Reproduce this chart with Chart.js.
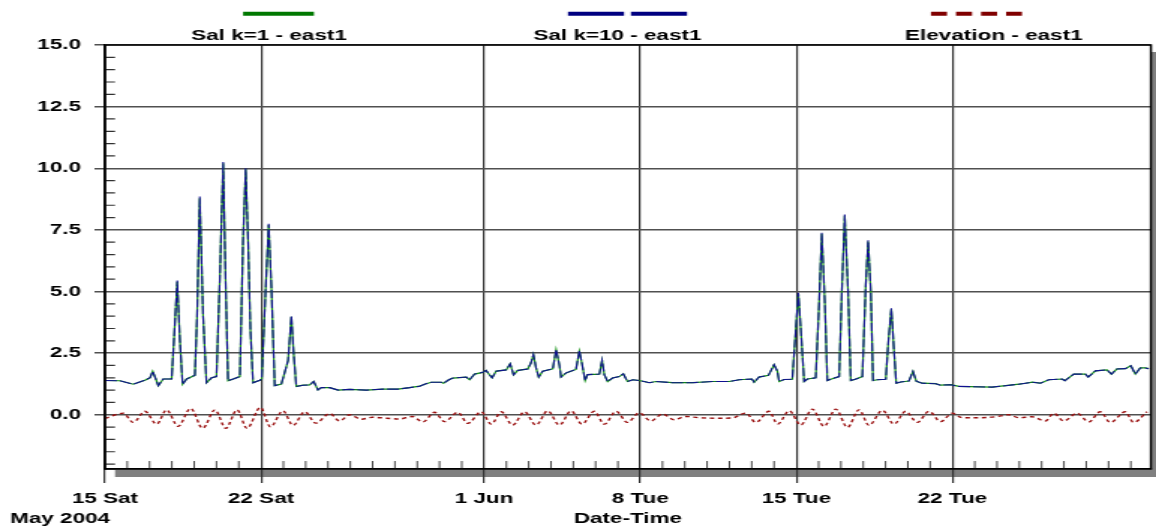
<!DOCTYPE html>
<html>
<head>
<meta charset="utf-8">
<title>Salinity and elevation - east1</title>
<script src="https://cdn.jsdelivr.net/npm/chart.js@4.4.1/dist/chart.umd.min.js"></script>
<style>
  html, body { margin: 0; padding: 0; background: #fff; overflow: hidden; }
  /* the plot is drawn narrow and stretched sideways, like the old export */
  #wrap { width: 771px; height: 529px; transform: scaleX(1.49935); transform-origin: 0 0; }
</style>
</head>
<body>
<div id="wrap"><canvas id="salChart"></canvas></div>
<script>
// x values are days since 15 May 2004 00:00
const tickDays = [0, 7, 17, 24, 31, 38];
const tickLabels = ["15 Sat", "22 Sat", "1 Jun", "8 Tue", "15 Tue", "22 Tue"];
const yTicks = [0, 2.5, 5, 7.5, 10, 12.5, 15];

const salDays = [
    0.00, 0.67, 1.27, 1.79, 2.02, 2.14, 2.28, 2.39, 2.61, 2.99,
    3.09, 3.24, 3.36, 3.48, 3.66, 4.03, 4.13, 4.25, 4.40, 4.55,
    4.78, 5.00, 5.15, 5.30, 5.42, 5.52, 5.75, 6.05, 6.19, 6.31,
    6.42, 6.52, 6.64, 6.94, 7.03, 7.20, 7.34, 7.47, 7.61, 7.91,
    8.21, 8.36, 8.46, 8.58, 8.88, 9.18, 9.36, 9.55, 9.70, 10.08,
    10.45, 10.97, 11.72, 12.46, 13.13, 13.66, 14.11, 14.33, 14.63, 15.08,
    15.18, 15.42, 15.60, 16.20, 16.35, 16.57, 16.94, 17.09, 17.24, 17.36,
    17.54, 17.99, 18.17, 18.32, 18.51, 18.96, 19.10, 19.21, 19.33, 19.45,
    19.63, 20.08, 20.23, 20.38, 20.45, 20.68, 21.12, 21.27, 21.39, 21.53,
    21.64, 22.17, 22.29, 22.39, 22.54, 22.76, 23.06, 23.24, 23.43, 23.66,
    23.96, 24.41, 24.71, 25.45, 26.35, 27.24, 27.99, 28.44, 29.01, 29.11,
    29.33, 29.75, 30.00, 30.15, 30.23, 30.45, 30.82, 30.94, 31.09, 31.20,
    31.35, 31.50, 31.87, 32.02, 32.14, 32.28, 32.39, 32.54, 32.92, 33.04,
    33.17, 33.32, 33.44, 33.64, 33.96, 34.11, 34.22, 34.34, 34.44, 34.63,
    35.01, 35.13, 35.26, 35.38, 35.48, 35.68, 36.05, 36.23, 36.38, 36.64,
    37.25, 37.47, 37.92, 38.29, 39.78, 40.38, 40.98, 41.28, 41.58, 41.95,
    42.32, 42.92, 43.04, 43.44, 43.96, 44.09, 44.41, 44.93, 45.13, 45.38,
    45.75, 46.00, 46.20, 46.42, 46.65, 46.80
];

const salK1 = [
    1.39, 1.38, 1.24, 1.40, 1.50, 1.76, 1.45, 1.18, 1.45, 1.45,
    3.00, 5.40, 3.00, 1.24, 1.45, 1.60, 4.00, 8.78, 4.00, 1.30,
    1.50, 1.55, 5.50, 10.20, 5.00, 1.38, 1.45, 1.55, 7.00, 9.96,
    7.00, 3.50, 1.30, 1.40, 1.45, 5.00, 7.70, 5.00, 1.18, 1.25,
    2.20, 3.98, 2.50, 1.15, 1.20, 1.21, 1.35, 1.01, 1.10, 1.10,
    1.00, 1.03, 1.00, 1.04, 1.04, 1.10, 1.16, 1.24, 1.32, 1.32,
    1.28, 1.42, 1.49, 1.53, 1.42, 1.65, 1.72, 1.80, 1.62, 1.50,
    1.77, 1.82, 2.07, 1.62, 1.80, 1.86, 2.10, 2.43, 1.90, 1.53,
    1.77, 1.86, 2.63, 2.00, 1.53, 1.70, 1.84, 2.57, 2.07, 1.39,
    1.63, 1.65, 2.20, 1.63, 1.35, 1.49, 1.55, 1.66, 1.35, 1.42,
    1.39, 1.30, 1.35, 1.30, 1.30, 1.35, 1.35, 1.42, 1.45, 1.32,
    1.53, 1.60, 2.03, 1.77, 1.35, 1.43, 1.44, 3.00, 4.90, 3.50,
    1.35, 1.45, 1.50, 4.50, 7.34, 4.50, 1.39, 1.44, 1.55, 5.00,
    8.07, 5.00, 1.39, 1.44, 1.55, 5.20, 7.03, 5.00, 1.39, 1.42,
    1.44, 3.00, 4.28, 2.60, 1.28, 1.33, 1.37, 1.76, 1.36, 1.28,
    1.26, 1.20, 1.22, 1.15, 1.12, 1.18, 1.24, 1.28, 1.32, 1.28,
    1.42, 1.45, 1.38, 1.65, 1.65, 1.53, 1.78, 1.82, 1.65, 1.86,
    1.87, 1.99, 1.65, 1.90, 1.90, 1.87
];

const salK10 = [
    1.39, 1.38, 1.24, 1.40, 1.50, 1.76, 1.45, 1.18, 1.45, 1.45,
    3.00, 5.45, 3.00, 1.24, 1.45, 1.60, 4.00, 8.85, 4.00, 1.30,
    1.50, 1.55, 5.50, 10.25, 5.00, 1.38, 1.45, 1.55, 7.00, 10.00,
    7.00, 3.50, 1.30, 1.40, 1.45, 5.00, 7.75, 5.00, 1.18, 1.25,
    2.20, 4.02, 2.50, 1.15, 1.20, 1.21, 1.35, 1.01, 1.10, 1.10,
    1.00, 1.03, 1.00, 1.04, 1.04, 1.10, 1.16, 1.24, 1.32, 1.32,
    1.28, 1.42, 1.49, 1.53, 1.42, 1.65, 1.72, 1.80, 1.62, 1.50,
    1.77, 1.82, 2.07, 1.62, 1.80, 1.86, 2.10, 2.45, 1.90, 1.53,
    1.77, 1.86, 2.65, 2.00, 1.53, 1.70, 1.84, 2.60, 2.07, 1.39,
    1.63, 1.65, 2.22, 1.63, 1.35, 1.49, 1.55, 1.66, 1.35, 1.42,
    1.39, 1.30, 1.35, 1.30, 1.30, 1.35, 1.35, 1.42, 1.45, 1.32,
    1.53, 1.60, 2.03, 1.77, 1.35, 1.43, 1.44, 3.00, 4.95, 3.50,
    1.35, 1.45, 1.50, 4.50, 7.38, 4.50, 1.39, 1.44, 1.55, 5.00,
    8.12, 5.00, 1.39, 1.44, 1.55, 5.20, 7.08, 5.00, 1.39, 1.42,
    1.44, 3.00, 4.32, 2.60, 1.28, 1.33, 1.37, 1.76, 1.36, 1.28,
    1.26, 1.20, 1.22, 1.15, 1.12, 1.18, 1.24, 1.28, 1.32, 1.28,
    1.42, 1.45, 1.38, 1.65, 1.65, 1.53, 1.78, 1.82, 1.65, 1.86,
    1.87, 1.99, 1.65, 1.90, 1.90, 1.87
];

// tide: one high and one low per day
const elevDays = [
    0.00, 0.82, 1.27, 1.79, 2.32, 2.76, 3.28, 3.84, 4.38, 4.93,
    5.42, 5.92, 6.37, 6.97, 7.42, 7.98, 8.43, 8.96, 9.45, 10.08,
    10.52, 10.97, 11.50, 12.00, 12.63, 13.21, 13.79, 14.25, 14.78, 15.23,
    15.82, 16.27, 16.87, 17.32, 17.77, 18.28, 18.81, 19.33, 19.85, 20.38,
    20.90, 21.39, 21.94, 22.39, 22.92, 23.43, 23.96, 24.48, 25.00, 25.52,
    26.05, 26.65, 27.54, 28.12, 28.74, 29.18, 29.78, 30.16, 30.68, 31.20,
    31.72, 32.24, 32.77, 33.29, 33.81, 34.26, 34.86, 35.38, 35.90, 36.42,
    36.95, 37.47, 37.99, 38.44, 39.18, 39.93, 40.53, 40.98, 41.56, 42.17,
    42.54, 42.99, 43.59, 44.11, 44.63, 45.08, 45.75, 46.12, 46.72
];

const elevation = [
    -0.15, 0.06, -0.31, 0.14, -0.38, 0.20, -0.47, 0.26, -0.55, 0.20,
    -0.55, 0.20, -0.55, 0.30, -0.49, 0.16, -0.43, 0.12, -0.34, 0.05,
    -0.25, 0.00, -0.18, -0.10, -0.14, -0.17, -0.07, -0.29, 0.10, -0.28,
    0.10, -0.35, 0.12, -0.38, 0.12, -0.42, 0.12, -0.42, 0.16, -0.42,
    0.16, -0.38, 0.14, -0.38, 0.14, -0.31, 0.08, -0.25, 0.03, -0.20,
    -0.07, -0.12, -0.14, -0.13, 0.07, -0.31, 0.14, -0.38, 0.16, -0.42,
    0.23, -0.47, 0.23, -0.51, 0.20, -0.43, 0.18, -0.38, 0.14, -0.31,
    0.14, -0.28, 0.06, -0.12, -0.12, -0.08, 0.00, -0.12, -0.08, -0.25,
    0.06, -0.25, 0.06, -0.29, 0.12, -0.31, 0.12, -0.31, 0.12
];

const boldFont = { family: "'Liberation Sans', Arial, sans-serif", size: 15, weight: "bold" };
const boldCss = "bold 15px 'Liberation Sans', Arial, sans-serif";

function toPoints(xs, ys) {
    return xs.map(function (x, i) { return { x: x, y: ys[i] }; });
}

// legend sits above the plot: line sample on top, name below it
const legendItems = [
    { label: "Sal k=1 - east1", color: "#007800", dash: [], from: 162.1, to: 209.4, textX: 179.4 },
    { label: "Sal k=10 - east1", color: "#000080", dash: [37.4, 4.6], from: 378.8, to: 458.2, textX: 411.8 },
    { label: "Elevation - east1", color: "#800000", dash: [10.7, 6], from: 620.9, to: 681.6, textX: 662.8 }
];

const chartFrame = {
    id: "chartFrame",
    beforeDraw(chart) {
        const { ctx, chartArea: a, width } = chart;
        ctx.save();
        ctx.fillStyle = "#808080";
        ctx.fillRect(a.left + 6.7, a.bottom + 1, width - a.left - 6.7, 7);
        ctx.fillRect(a.right + 0.5, a.top + 7, width - a.right, a.bottom - a.top + 1);
        ctx.restore();
    },
    afterDraw(chart) {
        const { ctx, chartArea: a } = chart;
        const x = chart.scales.x, y = chart.scales.y;
        ctx.save();

        // minor ticks: every 0.5 on y, every day on x
        ctx.strokeStyle = "#303030";
        ctx.lineWidth = 1.2;
        ctx.beginPath();
        for (let v = -2; v < 15; v += 0.5) {
            if (v % 2.5 === 0) continue;
            const py = y.getPixelForValue(v);
            ctx.moveTo(a.left, py);
            ctx.lineTo(a.left + 6.7, py);
        }
        ctx.stroke();
        ctx.lineWidth = 0.9;
        ctx.beginPath();
        for (let d = 1; d < 47; d++) {
            if (tickDays.includes(d)) continue;
            const px = x.getPixelForValue(d);
            if (px >= a.right) break;
            ctx.moveTo(px, a.bottom);
            ctx.lineTo(px, a.bottom - 8);
        }
        ctx.stroke();

        // box round the plot
        ctx.strokeStyle = "#000";
        ctx.lineWidth = 1.5;
        ctx.strokeRect(a.left, a.top, a.right - a.left, a.bottom - a.top);

        // legend
        ctx.font = boldCss;
        ctx.fillStyle = "#000";
        ctx.textAlign = "center";
        ctx.textBaseline = "alphabetic";
        legendItems.forEach(function (item) {
            ctx.strokeStyle = item.color;
            ctx.lineWidth = 4;
            ctx.lineCap = "butt";
            ctx.setLineDash(item.dash);
            ctx.beginPath();
            ctx.moveTo(item.from, 13.8);
            ctx.lineTo(item.to, 13.8);
            ctx.stroke();
            ctx.setLineDash([]);
            ctx.fillText(item.label, item.textX, 40);
        });

        ctx.textAlign = "left";
        ctx.fillText("May 2004", 6.7, 523);
        ctx.restore();
    }
};

document.addEventListener("DOMContentLoaded", function () {
    let salChart = document.getElementById("salChart");

    if (salChart) {
        new Chart(salChart, {
            type: "line",
            data: {
                datasets: [{
                    label: "Sal k=10 - east1",
                    data: toPoints(salDays, salK10),
                    borderColor: "#101090",
                    borderWidth: 1.1,
                    borderDash: [8, 2],
                    order: 0,
                }, {
                    label: "Sal k=1 - east1",
                    data: toPoints(salDays, salK1),
                    borderColor: "#109010",
                    borderWidth: 1.2,
                    order: 1,
                }, {
                    label: "Elevation - east1",
                    data: toPoints(elevDays, elevation),
                    borderColor: "#9a1010",
                    borderWidth: 1.4,
                    borderDash: [3, 2.5],
                    cubicInterpolationMode: "monotone",
                    order: 2,
                }],
            },
            options: {
                responsive: true,
                maintainAspectRatio: false,
                animation: false,
                elements: {
                    point: { radius: 0 },
                    line: { tension: 0 },
                },
                layout: { padding: { top: 45, right: 3.4, left: 0, bottom: 0 } },
                plugins: {
                    legend: { display: false },
                    tooltip: { enabled: false },
                },
                scales: {
                    x: {
                        type: "linear",
                        min: 0,
                        max: 46.9,
                        afterBuildTicks: function (scale) {
                            scale.ticks = tickDays.map(function (v) { return { value: v }; });
                        },
                        afterFit: function (scale) { scale.height = 60; },
                        grid: { color: "#303030", lineWidth: 1.2, tickLength: 14 },
                        border: { color: "#000", width: 1.5 },
                        ticks: {
                            callback: function (value, index) { return tickLabels[index]; },
                            font: boldFont,
                            color: "#000",
                            padding: 7,
                            maxRotation: 0,
                            autoSkip: false,
                        },
                        title: {
                            display: true,
                            text: "Date-Time",
                            font: boldFont,
                            color: "#000",
                            padding: { top: 0, bottom: 1.5 },
                        },
                    },
                    y: {
                        min: -2.2,
                        max: 15,
                        afterBuildTicks: function (scale) {
                            scale.ticks = yTicks.map(function (v) { return { value: v }; });
                        },
                        afterFit: function (scale) { scale.width = 70; },
                        grid: { color: "#505050", lineWidth: 1.5, tickLength: 7 },
                        border: { color: "#000", width: 1.5 },
                        ticks: {
                            callback: function (value) { return value.toFixed(1); },
                            font: boldFont,
                            color: "#000",
                            padding: 9,
                        },
                    },
                },
            },
            plugins: [chartFrame],
        });
    }
});
</script>
</body>
</html>
